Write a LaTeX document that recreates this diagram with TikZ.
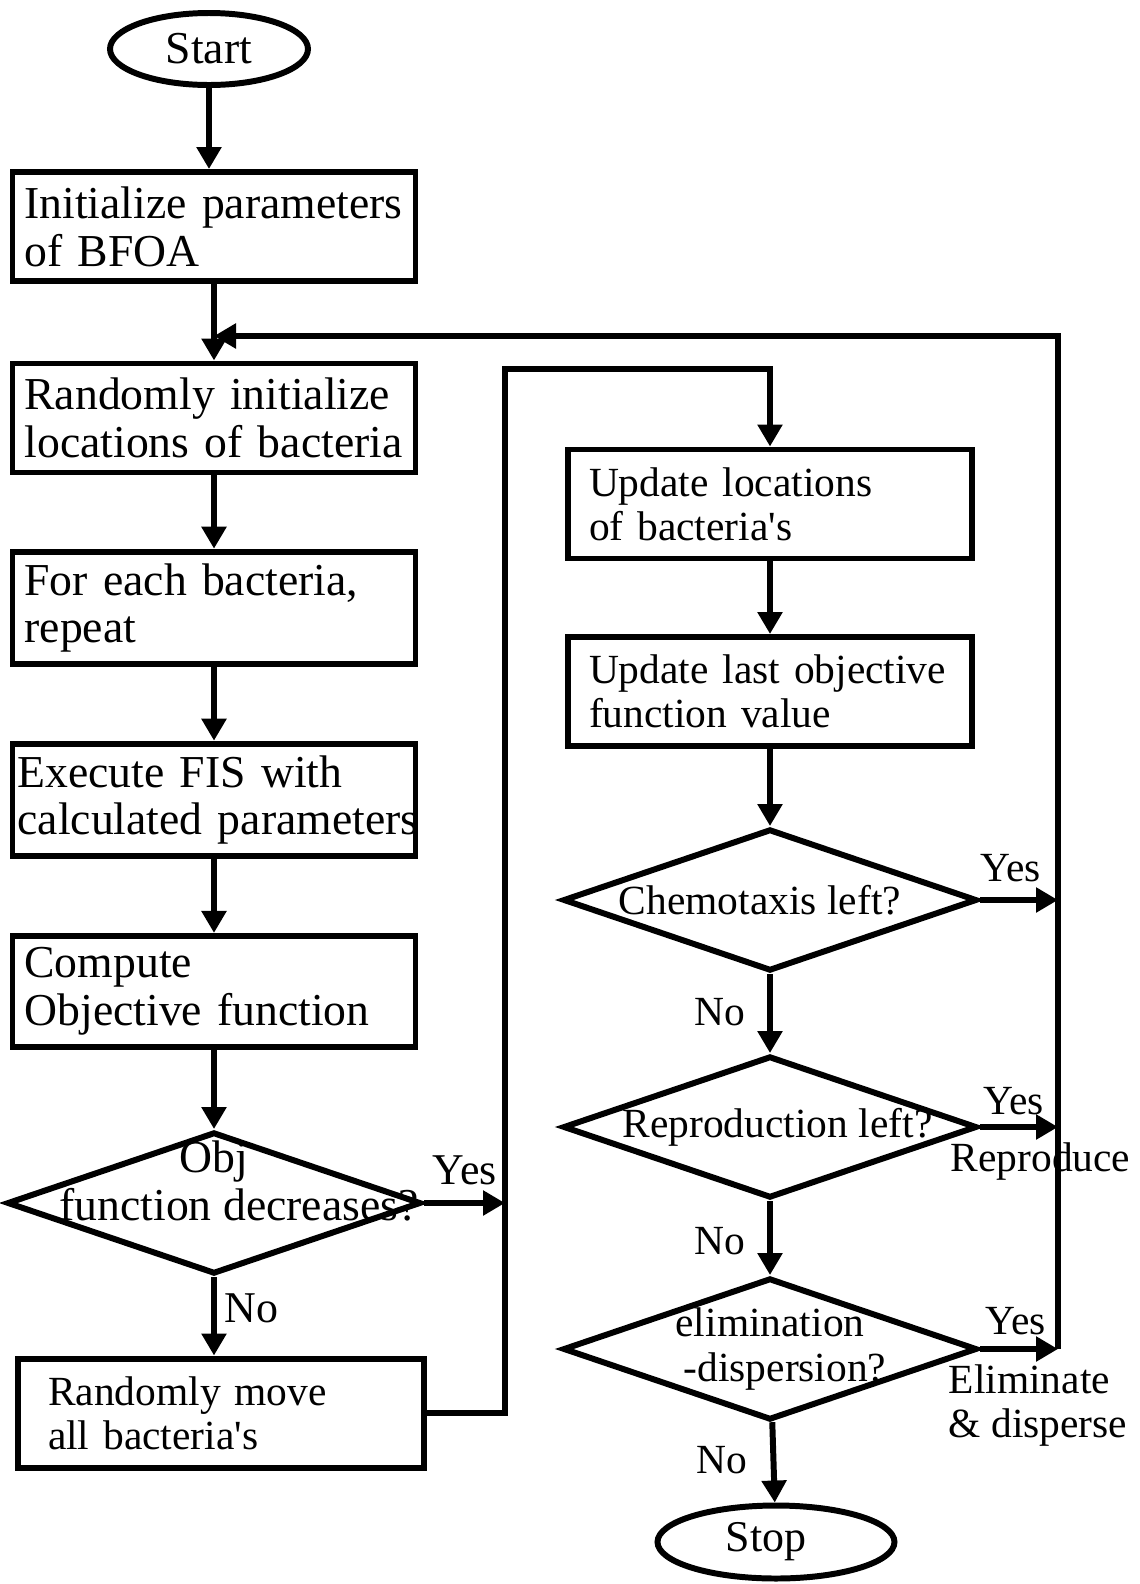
\documentclass[tikz,border=0pt]{standalone}
\usepackage{fontspec}
\setmainfont{Liberation Serif}
\usetikzlibrary{shapes.geometric,arrows.meta,positioning}
\newcommand{\nw}[1]{\makebox[0pt]{#1}}

\begin{document}
\hyphenpenalty=10000
\begin{tikzpicture}[
    stepbox/.style={rectangle, draw, line width=1.7pt, minimum height=1.09cm,
        text width=3.79cm, inner xsep=0.12cm, align=left,
        font=\fontsize{13}{13.6}\selectfont},
    rstepbox/.style={stepbox, text width=3.62cm, inner xsep=0.21cm,
        font=\fontsize{11.8}{12.6}\selectfont},
    term/.style={ellipse, draw, line width=1.7pt, inner sep=0pt},
    decision/.style={diamond, draw, line width=1.7pt, inner sep=0pt,
        minimum width=4.14cm, minimum height=1.42cm, align=center,
        font=\fontsize{11.8}{12.6}\selectfont},
    lbl/.style={inner sep=0pt, font=\fontsize{11.8}{12.6}\selectfont},
    arr/.style={-{Triangle[length=2.2mm, width=2.4mm]}, line width=1.7pt}
]
    \useasboundingbox (0,0) rectangle (11.39,-15.84);

    % left column
    \node[term, minimum width=1.98cm, minimum height=0.72cm,
        font=\fontsize{13}{13.6}\selectfont] (start) at (2.09,-0.49) {Start};
    \node[stepbox] (init) at (2.14,-2.265) {Initialize parameters\\of BFOA};
    \node[stepbox] (rand) at (2.14,-4.18) {Randomly initialize\\locations of bacteria};
    \node[stepbox, text width=3.93cm, inner xsep=0.05cm] (exec) at (2.14,-8.00)
        {Execute FIS with\\\mbox{calculated parameters}};
    \node[stepbox] (each) at (2.14,-6.08) {For each bacteria,\\repeat};
    \node[stepbox] (cmp) at (2.14,-9.915) {Compute\\Objective function};
    \node[decision, text depth=0.45cm, font=\fontsize{13}{13.6}\selectfont]
        (objdec) at (2.14,-12.03) {\nw{Obj}\\\nw{\hspace*{0.5cm}function decreases?}};
    \node[stepbox, minimum width=4.06cm, text width=3.46cm, inner xsep=0.30cm,
        font=\fontsize{11.8}{12.6}\selectfont] (move) at (2.21,-14.13)
        {Randomly move\\all bacteria\textquotesingle s};

    % right column
    \node[rstepbox] (upd) at (7.70,-5.04) {Update locations\\of bacteria\textquotesingle s};
    \node[rstepbox] (updlast) at (7.70,-6.915) {Update last objective\\function value};
    \node[decision] (chemo) at (7.70,-9.00) {\nw{Chemotaxis left?\hspace*{0.2cm}}};
    \node[decision] (repro) at (7.70,-11.27) {\nw{\hspace*{0.15cm}Reproduction left?}};
    \node[decision] (elim) at (7.70,-13.49) {\nw{elimination}\\\nw{\hspace*{0.3cm}-dispersion?}};
    \node[term, minimum width=2.37cm, minimum height=0.73cm,
        font=\fontsize{12.5}{13}\selectfont] (stop) at (7.76,-15.42) {Stop\hspace*{0.2cm}};

    \coordinate (ltop) at (5.05,-3.69);
    \coordinate (rtop) at (10.58,-3.36);

    \draw[arr] (start.south) -- (start.south |- init.north);
    \draw[arr] (init) -- (rand);
    \draw[arr] (rand) -- (each);
    \draw[arr] (each) -- (exec);
    \draw[arr] (exec) -- (cmp);
    \draw[arr] (cmp) -- (objdec);
    \draw[arr] (objdec.south) -- (objdec.south |- move.north);
    \draw[arr] (objdec.east) -- (objdec.east -| ltop);
    \draw[arr] (move.east) -| (ltop) -| (upd.north);

    \draw[arr] (upd) -- (updlast);
    \draw[arr] (updlast) -- (chemo);
    \draw[arr] (chemo) -- (repro);
    \draw[arr] (repro) -- (elim);
    \draw[arr] (elim) -- (stop);
    \draw[arr] (chemo.east) -- (chemo.east -| rtop);
    \draw[arr] (repro.east) -- (repro.east -| rtop);
    \draw[arr] (elim.east) -- (elim.east -| rtop);
    \draw[arr] (elim.east -| rtop) -- (rtop) -- (init.south |- rtop);

    % branch labels
    \node[lbl, anchor=base west, xshift=0.08cm, yshift=0.19cm] (yes1) at (objdec.east)
        {\fontsize{12.5}{13}\selectfont Yes};
    \node[lbl, anchor=base west, xshift=0.10cm, yshift=-0.45cm] (no1) at (objdec.south)
        {\fontsize{12.5}{13}\selectfont No};
    \node[lbl, anchor=base west, yshift=0.19cm] (yes2) at (chemo.east) {Yes};
    \node[lbl, anchor=base east, xshift=-0.24cm, yshift=-0.51cm] (no2) at (chemo.south) {No};
    \node[lbl, anchor=base west, xshift=0.03cm, yshift=0.13cm] (yes3) at (repro.east) {Yes};
    \node[lbl, anchor=base west, xshift=-0.30cm, yshift=-0.44cm] (reprod) at (repro.east)
        {Reproduce};
    \node[lbl, anchor=base east, xshift=-0.24cm, yshift=-0.53cm] (no3) at (repro.south) {No};
    \node[lbl, anchor=base west, xshift=0.05cm, yshift=0.15cm] (yes4) at (elim.east) {Yes};
    \node[lbl, anchor=north west, align=left, xshift=-0.32cm, yshift=-0.15cm] (elimdisp)
        at (elim.east) {Eliminate\\\& disperse};
    \node[lbl, anchor=base east, xshift=-0.22cm, yshift=-0.50cm] (no4) at (elim.south) {No};
\end{tikzpicture}
\end{document}
